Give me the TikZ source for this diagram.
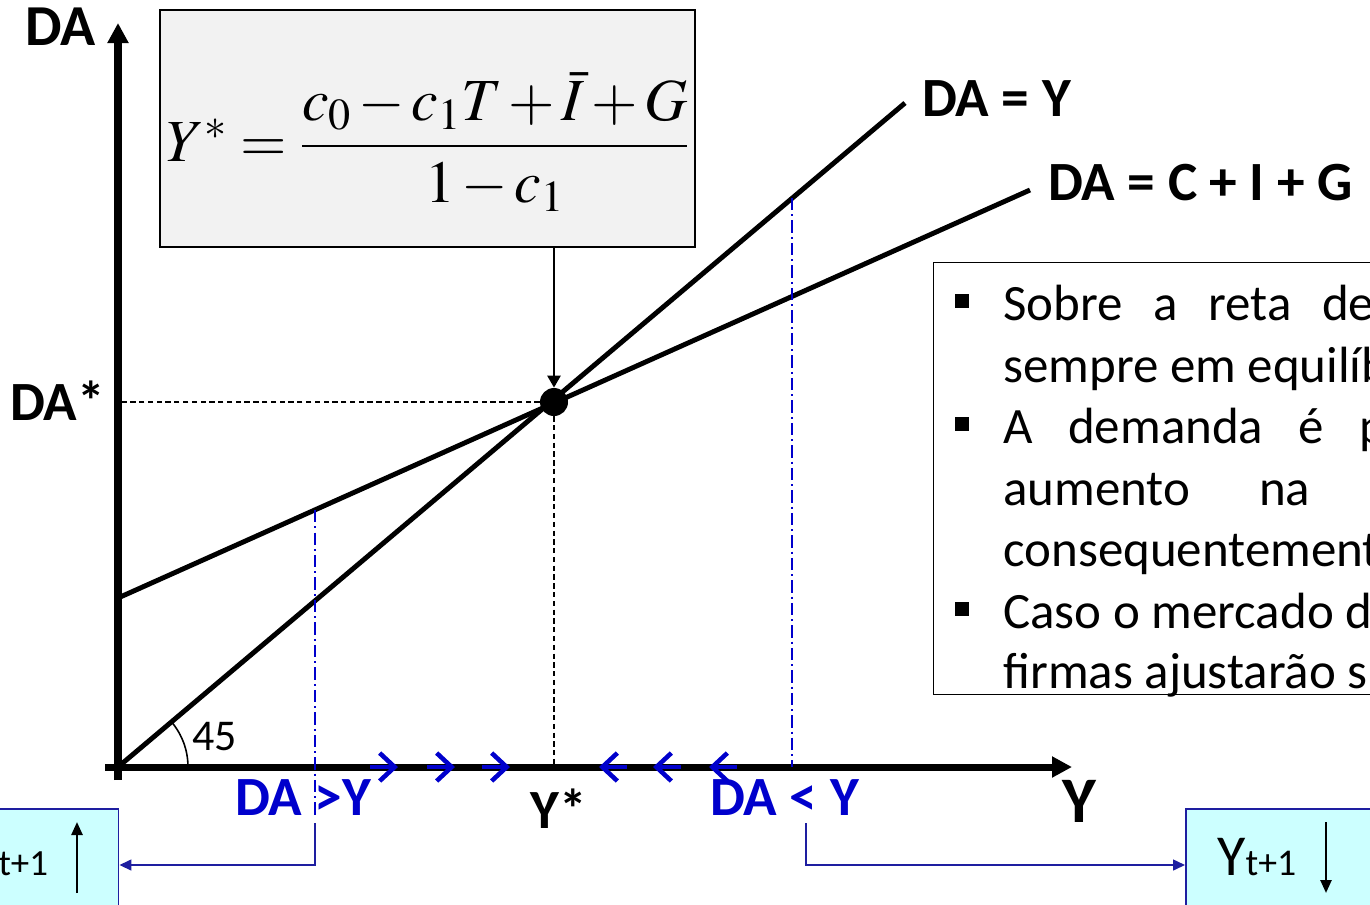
\documentclass[tikz,border=0pt]{standalone}
\usepackage{amsmath}
\usepackage{mathptmx}
\usepackage{fontspec}
\setmainfont{Carlito}
\usetikzlibrary{positioning,arrows.meta}
\definecolor{dablue}{RGB}{0,0,204}
\definecolor{linkblue}{RGB}{30,30,160}
\definecolor{movefill}{RGB}{204,255,255}
\definecolor{formfill}{RGB}{242,242,242}

\begin{document}
\begin{tikzpicture}[x=0.02cm, y=-0.02cm, font=\fontsize{29}{35}\selectfont,
  >={Triangle[length=4mm, width=4mm]},
  axis/.style={line width=4pt},
  curve/.style={line width=2.8pt},
  guide/.style={line width=0.75pt, dash pattern=on 3pt off 2pt},
  dropline/.style={draw=dablue, line width=0.85pt, dash pattern=on 7pt off 2.3pt on 1.2pt off 2.3pt},
  lbl/.style={font=\fontsize{31.5}{36}\selectfont\bfseries, inner sep=0pt, anchor=base west},
  bluelbl/.style={lbl, text=dablue},
  chev/.style={draw=dablue, line width=2.6pt, -{Straight Barb[length=3mm, width=5.6mm]}},
  link/.style={draw=linkblue, line width=0.85pt, -{Triangle[length=2.4mm, width=2.2mm]}},
  movebox/.style={draw=linkblue, line width=0.85pt, fill=movefill, anchor=north west, inner sep=0pt},
  boxarrow/.style={line width=1.4pt, -{Triangle[length=2.6mm, width=2.2mm]}},
  line/.style={anchor=base west, inner sep=0pt},
  bullet/.style={fill, inner sep=0pt, minimum size=0.28cm}]
\useasboundingbox (0,0) rectangle (1370,904);

% formula box
\node[draw, line width=0.8pt, fill=formfill, minimum width=10.7cm, minimum height=4.74cm] (formula) at (427.5,128.5) {};
\node (yeq) at (428,142) {\fontsize{34}{40}\selectfont\medmuskip=2mu\thickmuskip=4mu
  $Y^{*}=\dfrac{c_0-c_1T+\bar{I}+G}{1-c_1}$};

% text box
\node[draw, line width=0.8pt, fill=white, anchor=north west, minimum width=9.6cm, minimum height=8.64cm] (info) at (933,262) {};
\node[line] (l1) at (1003,320) {\makebox[7.42cm][s]{Sobre a reta de}};
\node[line] (l2) at (1003,382) {sempre em equilíb};
\node[line] (l3) at (1003,443) {\makebox[7.66cm][s]{A demanda é p}};
\node[line] (l4) at (1003,505) {\makebox[6.14cm][s]{aumento na}};
\node[line] (l5) at (1003,566) {consequentement};
\node[line] (l6) at (1003,628) {Caso o mercado d};
\node[line] (l7) at (1003,688) {firmas ajustarão s};
\foreach \b in {l1,l3,l6}
  \node[bullet] at ([yshift=0.38cm]\b.base -| 962,0) {};

% move boxes
\node[movebox, minimum width=3cm, minimum height=2.1cm] (boxL) at (-32,808) {};
\node[movebox, minimum width=4cm, minimum height=2.1cm] (boxR) at (1185,808) {};
\node[line, font=\fontsize{33}{36}\selectfont] (ytL) at (-30,875) {Y\fontsize{21}{24}\selectfont t+1};
\node[line, font=\fontsize{33}{36}\selectfont] (ytR) at (1217,875) {Y\fontsize{21.5}{24}\selectfont t+1};
\coordinate (upB) at (77,893);
\coordinate (upT) at (77,822);
\coordinate (dnT) at (1326,822);
\coordinate (dnB) at (1326,893);
\draw[boxarrow] (upB) -- (upT);
\draw[boxarrow] (dnT) -- (dnB);

% axes
\coordinate (O) at (118,767);
\coordinate (ytop) at (118,23);
\coordinate (xend) at (1072,767);
\draw[axis, ->] (118,780) -- (ytop);
\draw[axis, ->] (105,767) -- (xend);
\node[lbl, font=\fontsize{33}{36}\selectfont\bfseries] (lDA) at (25,45) {DA};
\node[lbl, font=\fontsize{37}{40}\selectfont\bfseries] (lY) at (1062,822) {Y};

% lines
\coordinate (yEnd) at (905,103);
\coordinate (cStart) at (118,598);
\coordinate (cEnd) at (1030,190);
\draw[curve] (O) -- (yEnd);
\draw[curve] (cStart) -- (cEnd);
\node[lbl] (lDAY) at (922,116) {DA = Y};
\node[lbl] (lCIG) at (1048,200) {DA = C + I + G};

% equilibrium
\node[circle, fill, minimum size=0.56cm, inner sep=0pt] (eq) at (554,402) {};
\draw[guide] (eq) -- (eq -| O);
\draw[guide] (eq) -- (eq |- O);
\draw[line width=1.4pt, -{Triangle[length=2.4mm, width=2.6mm]}] (formula.south -| eq) -- (eq.north);
\node[lbl] (lDAs) at (10,420) {DA*};
\node[lbl] (lYs) at (530,828) {Y*};

% angle
\draw[line width=0.9pt] (188,767) arc[start angle=0, end angle=-40.2, radius=70];
\node[line, font=\fontsize{25}{28}\selectfont] (l45) at (192,750) {45};

% gaps
\coordinate (gL) at (315,510);
\coordinate (gR) at (792,198);
\draw[dropline] (gL) -- (315,815);
\draw[dropline] (gR) -- (792,767);
\foreach \t in {398,455,510}
  \draw[chev] (\t-28,767) -- (\t,767);
\foreach \t in {599,653,709}
  \draw[chev] (\t+28,767) -- (\t,767);
\node[bluelbl] (gtL) at (235,815) {DA >Y};
\node[bluelbl] (ltR) at (710,815) {DA < Y};

% adjustment links
\coordinate (sL) at (315,823);
\coordinate (sR) at (806,823);
\draw[link] (sL) |- (boxL.east |- 0,865);
\draw[link] (sR) |- (boxR.west |- 0,865);
\end{tikzpicture}
\end{document}
